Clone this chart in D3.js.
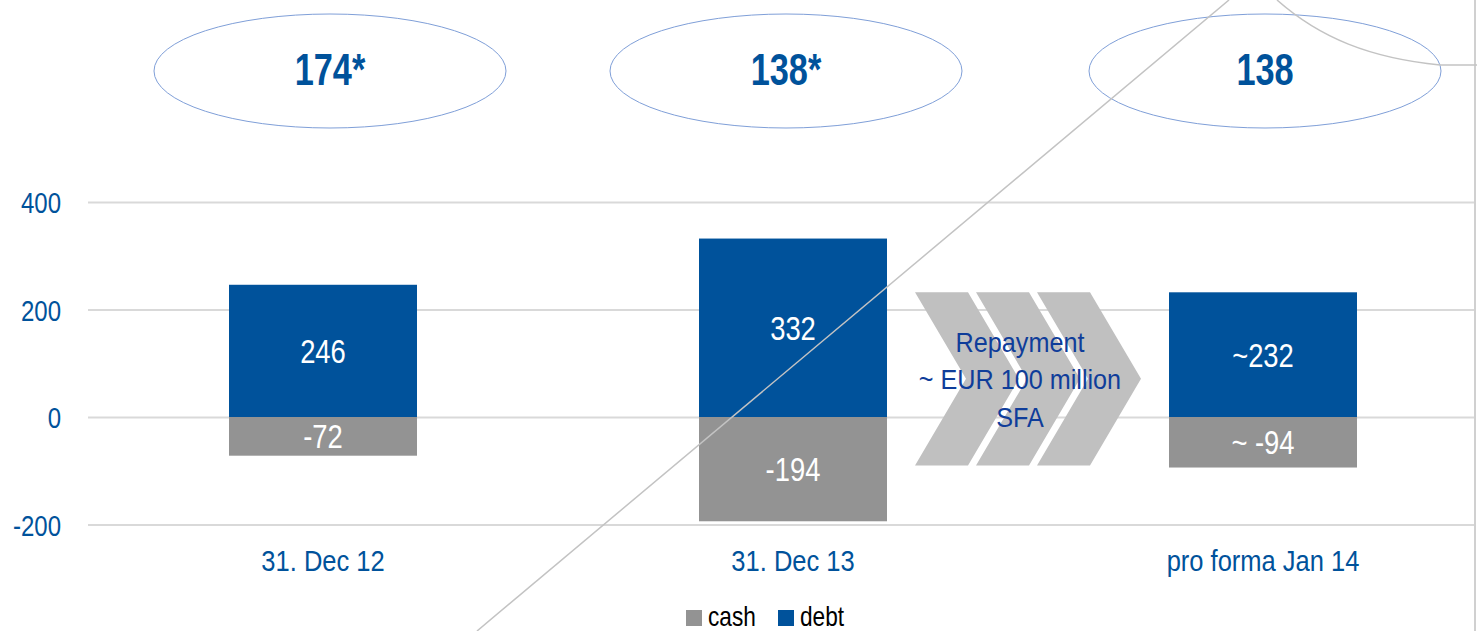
<!DOCTYPE html>
<html>
<head>
<meta charset="utf-8">
<script src="https://cdn.jsdelivr.net/npm/d3@7"></script>
<style>
  html, body { margin: 0; padding: 0; background: #fff; overflow: hidden; }
  svg { display: block; font-family: "Liberation Sans", Arial, sans-serif; }
</style>
</head>
<body>
<div id="chart"></div>
<script>
// data
var categories = ["31. Dec 12", "31. Dec 13", "pro forma Jan 14"];
var debtValues = [246, 332, 232];
var cashValues = [-72, -194, -94];
var debtLabels = ["246", "332", "~232"];
var cashLabels = ["-72", "-194", "~ -94"];
var netLabels = ["174*", "138*", "138"];
var yTicks = [-200, 0, 200, 400];
var legendItems = ["cash", "debt"];
var repaymentText = ["Repayment", "~ EUR 100 million", "SFA"];

var width = 1477, height = 631;
var blue = "#00529b", grey = "#939393";

// squeeze text horizontally round its anchor (no narrow font installed)
function narrow(sel, k) {
  sel.attr("transform", function() {
    var x0 = +d3.select(this).attr("x") || 0;
    return "translate(" + x0 + ",0) scale(" + k + ",1) translate(" + (-x0) + ",0)";
  });
}

var svg = d3.select("#chart").append("svg")
    .attr("width", width)
    .attr("height", height);

// set the ranges
var x = d3.scaleBand()
    .domain(categories)
    .range([88, 1498])
    .paddingInner(0.6)
    .paddingOuter(0.3);

var y = d3.scaleLinear()
    .domain([-200, 400])
    .range([524.5, 202]);

// grid lines
var yAxis = d3.axisLeft(y)
    .tickValues(yTicks)
    .tickFormat(function(d) { return String(d); })
    .tickSize(-(1475 - 88))
    .tickPadding(27);

svg.append("g")
    .attr("class", "yAxis")
    .attr("transform", "translate(88,0)")
    .call(customYAxis);

function customYAxis(g) {
  g.call(yAxis);
  g.select(".domain").remove();
  g.selectAll(".tick line").attr("stroke", "#d9d9d9").attr("stroke-width", 2);
  g.selectAll(".tick text")
    .attr("fill", blue)
    .style("font-size", "30px")
    .attr("dy", "0.36em")
    .call(narrow, 0.8);
}

// right border
svg.append("line")
    .attr("x1", 1475).attr("x2", 1475)
    .attr("y1", 0).attr("y2", height)
    .attr("stroke", "#d0d0d0")
    .attr("stroke-width", 2);

// repayment chevrons
var chevTop = y(232), chevBot = y(-90), chevMid = (chevTop + chevBot) / 2;
var chevX = [915, 976, 1037];
svg.selectAll(".chev")
    .data(chevX)
    .enter().append("path")
    .attr("class", "chev")
    .attr("fill", "#c0c0c0")
    .attr("d", function(x0) {
      var w = 53, dpt = 51;
      return "M" + x0 + "," + chevTop +
        "L" + (x0 + w) + "," + chevTop +
        "L" + (x0 + w + dpt) + "," + chevMid +
        "L" + (x0 + w) + "," + chevBot +
        "L" + x0 + "," + chevBot +
        "L" + (x0 + dpt) + "," + chevMid + "Z";
    });

svg.append("text")
    .attr("x", 1020)
    .attr("y", 352)
    .attr("text-anchor", "middle")
    .attr("fill", "#0f3d9a")
    .style("font-size", "28px")
    .call(narrow, 0.9)
    .selectAll("tspan")
    .data(repaymentText)
    .enter().append("tspan")
    .attr("x", 1020)
    .attr("dy", function(d, i) { return i === 0 ? 0 : 37.5; })
    .text(function(d) { return d; });

// bars
svg.selectAll(".debt")
    .data(debtValues)
    .enter().append("rect")
    .attr("class", "debt")
    .attr("x", function(d, i) { return x(categories[i]); })
    .attr("width", x.bandwidth())
    .attr("y", function(d) { return y(d); })
    .attr("height", function(d) { return y(0) - y(d); })
    .attr("fill", blue);

svg.selectAll(".cash")
    .data(cashValues)
    .enter().append("rect")
    .attr("class", "cash")
    .attr("x", function(d, i) { return x(categories[i]); })
    .attr("width", x.bandwidth())
    .attr("y", y(0))
    .attr("height", function(d) { return y(d) - y(0); })
    .attr("fill", grey);

// bar labels
svg.selectAll(".debtLabel")
    .data(debtValues)
    .enter().append("text")
    .attr("x", function(d, i) { return x(categories[i]) + x.bandwidth() / 2; })
    .attr("y", function(d) { return (y(d) + y(0)) / 2; })
    .attr("dy", "0.36em")
    .attr("text-anchor", "middle")
    .attr("fill", "#fff")
    .style("font-size", "33px")
    .text(function(d, i) { return debtLabels[i]; })
    .call(narrow, 0.83);

svg.selectAll(".cashLabel")
    .data(cashValues)
    .enter().append("text")
    .attr("x", function(d, i) { return x(categories[i]) + x.bandwidth() / 2; })
    .attr("y", function(d) { return (y(d) + y(0)) / 2; })
    .attr("dy", "0.36em")
    .attr("text-anchor", "middle")
    .attr("fill", "#fff")
    .style("font-size", "33px")
    .text(function(d, i) { return cashLabels[i]; })
    .call(narrow, 0.83);

// category labels
var xAxis = d3.axisBottom(x).tickSize(0).tickPadding(0);
svg.append("g")
    .attr("class", "xAxis")
    .attr("transform", "translate(0,549)")
    .call(function(g) {
      g.call(xAxis);
      g.select(".domain").remove();
      g.selectAll(".tick text")
        .attr("fill", blue)
        .attr("dy", "0.72em")
        .style("font-size", "30px")
        .call(narrow, 0.85);
    });

// net debt ellipses
var net = svg.selectAll(".net")
    .data(netLabels)
    .enter().append("g")
    .attr("class", "net")
    .attr("transform", function(d, i) {
      return "translate(" + (x(categories[i]) + x.bandwidth() / 2 + [7, -7, 2][i]) + ",71)";
    });

net.append("ellipse")
    .attr("rx", 176)
    .attr("ry", 57)
    .attr("fill", "none")
    .attr("stroke", "#7f9fd8")
    .attr("stroke-width", 1);

net.append("text")
    .attr("text-anchor", "middle")
    .attr("y", 14)
    .attr("fill", blue)
    .style("font-size", "44px")
    .style("font-weight", "bold")
    .text(function(d) { return d; })
    .call(narrow, 0.78);

// stray connector lines
svg.append("line")
    .attr("x1", 477).attr("y1", 631)
    .attr("x2", 1229).attr("y2", 0)
    .attr("stroke", "#c3c3c3")
    .attr("stroke-width", 1.5);

svg.append("path")
    .attr("d", "M1277,0 C1320,38 1370,58 1440,65 L1477,65")
    .attr("fill", "none")
    .attr("stroke", "#c3c3c3")
    .attr("stroke-width", 1.5);

// legend
var legendX = [686, 778];
var legend = svg.selectAll(".legend")
    .data(legendItems)
    .enter().append("g")
    .attr("class", "legend")
    .attr("transform", function(d, i) { return "translate(" + legendX[i] + ",610)"; });

legend.append("rect")
    .attr("width", 16)
    .attr("height", 16)
    .attr("fill", function(d) { return d === "cash" ? grey : blue; });

legend.append("text")
    .attr("x", 22)
    .attr("y", 16)
    .attr("fill", "#000")
    .style("font-size", "27px")
    .text(function(d) { return d; })
    .call(narrow, 0.84);
</script>
</body>
</html>
